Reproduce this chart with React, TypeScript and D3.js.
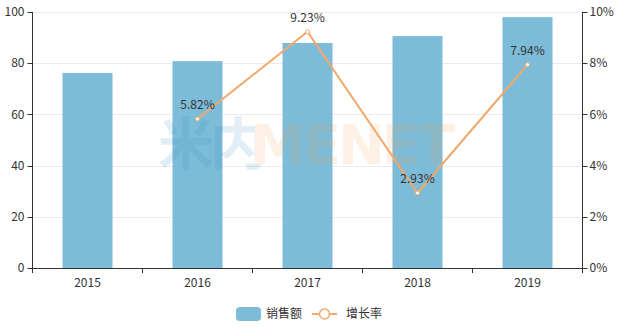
import React from "react";
import * as d3 from "d3";

const years = ["2015", "2016", "2017", "2018", "2019"];
const sales = [76.2, 80.8, 87.9, 90.6, 98.0];
const growth: (number | null)[] = [null, 5.82, 9.23, 2.93, 7.94];
const leftTicks = [0, 20, 40, 60, 80, 100];
const rightTicks = [0, 2, 4, 6, 8, 10];

const W = 618, H = 327;
const L = 32.5, R = 582.5, T = 12, B = 268;
const FONT = "'Noto Sans CJK SC', 'Noto Sans', sans-serif";

export default function App() {
  const x = d3.scaleBand<string>().domain(years).range([L, R]).padding(0);
  const y = d3.scaleLinear().domain([0, 100]).range([B, T]);
  const y2 = d3.scaleLinear().domain([0, 10]).range([B, T]);
  const barW = 50;
  const pts = years
    .map((yr, i) => ({ yr, v: growth[i] }))
    .filter((d) => d.v !== null) as { yr: string; v: number }[];
  const line = d3
    .line<{ yr: string; v: number }>()
    .x((d) => (x(d.yr) as number) + x.bandwidth() / 2)
    .y((d) => y2(d.v));
  const boundaries = [...years.map((yr) => x(yr) as number), R];

  return (
    <svg
      width={W}
      height={H}
      style={{ position: "absolute", left: 0, top: 0, fontFamily: FONT }}
    >
      <rect width={W} height={H} fill="#fff" />
      {leftTicks.map((t) => (
        <line key={t} x1={L} x2={R} y1={Math.round(y(t)) + 0.5} y2={Math.round(y(t)) + 0.5} stroke="#ebebeb" />
      ))}
      {years.map((yr, i) => (
        <rect
          key={yr}
          x={(x(yr) as number) + x.bandwidth() / 2 - barW / 2}
          y={y(sales[i])}
          width={barW}
          height={B - y(sales[i])}
          fill="#7dbcd9"
        />
      ))}
      {/* watermark */}
      <g opacity={0.13} fontWeight="bold" fontSize={56}>
        <text x={158} y={164} fill="#2a86b9" fontFamily={FONT} letterSpacing={-4}>米内</text>
        <text x={250} y={164} fill="#f39c3d" fontFamily="'DejaVu Sans', sans-serif" letterSpacing={-3}>MENET</text>
      </g>
      {/* left axis */}
      <line x1={L} x2={L} y1={T} y2={B} stroke="#333" />
      {leftTicks.map((t) => (
        <g key={t}>
          <line x1={L - 5} x2={L} y1={Math.round(y(t)) + 0.5} y2={Math.round(y(t)) + 0.5} stroke="#333" />
          <text x={L - 8} y={y(t)} dy="0.35em" textAnchor="end" fontSize={12} fill="#333">{t}</text>
        </g>
      ))}
      {/* right axis */}
      <line x1={R} x2={R} y1={T} y2={B} stroke="#333" />
      {rightTicks.map((t) => (
        <g key={t}>
          <line x1={R} x2={R + 5} y1={Math.round(y2(t)) + 0.5} y2={Math.round(y2(t)) + 0.5} stroke="#333" />
          <text x={R + 7} y={y2(t)} dy="0.35em" textAnchor="start" fontSize={12} fill="#333">{t}%</text>
        </g>
      ))}
      {/* x axis */}
      <line x1={L} x2={R} y1={B + 0.5} y2={B + 0.5} stroke="#333" />
      {boundaries.map((bx, i) => (
        <line key={i} x1={bx} x2={bx} y1={B} y2={B + 5} stroke="#333" />
      ))}
      {years.map((yr) => (
        <text key={yr} x={(x(yr) as number) + x.bandwidth() / 2} y={B + 15} dy="0.35em" textAnchor="middle" fontSize={12} fill="#333">{yr}</text>
      ))}
      {/* line */}
      <path d={line(pts) || ""} fill="none" stroke="#f0a96b" strokeWidth={2} />
      {pts.map((d) => {
        const cx = (x(d.yr) as number) + x.bandwidth() / 2;
        const cy = y2(d.v);
        return (
          <g key={d.yr}>
            <circle cx={cx} cy={cy} r={2} fill="#fff" stroke="#f0a96b" strokeWidth={1} />
            <text x={cx} y={cy - 14} dy="0.35em" textAnchor="middle" fontSize={12} fill="#333">{d.v.toFixed(2)}%</text>
          </g>
        );
      })}
      {/* legend */}
      <rect x={236} y={307} width={25} height={14} rx={4} fill="#7dbcd9" />
      <text x={266} y={314} dy="0.35em" fontSize={12} fill="#333">销售额</text>
      <line x1={312} x2={337} y1={314} y2={314} stroke="#f0a96b" strokeWidth={2} />
      <circle cx={324.5} cy={314} r={5} fill="#fff" stroke="#f0a96b" strokeWidth={1.5} />
      <text x={346} y={314} dy="0.35em" fontSize={12} fill="#333">增长率</text>
    </svg>
  );
}
